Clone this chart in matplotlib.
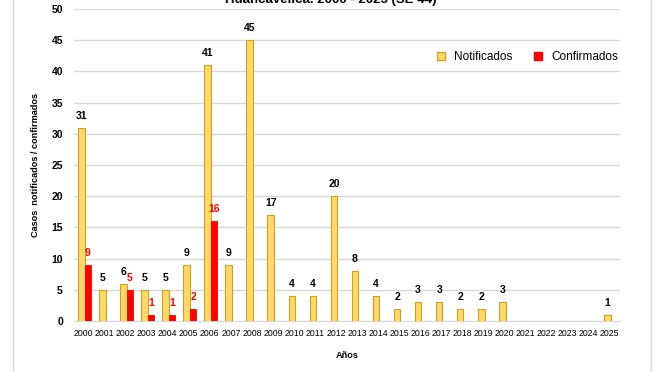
import matplotlib.pyplot as plt
import numpy as np
from matplotlib.lines import Line2D

plt.rcParams['font.family'] = ['Liberation Sans Narrow', 'Liberation Sans', 'DejaVu Sans']

years = [str(y) for y in range(2000, 2026)]
notificados = [31, 5, 6, 5, 5, 9, 41, 9, 45, 17, 4, 4, 20, 8, 4, 2, 3, 3, 2, 2, 3, 0, 0, 0, 0, 1]
confirmados = [9, 0, 5, 1, 1, 2, 16, 0, 0, 0, 0, 0, 0, 0, 0, 0, 0, 0, 0, 0, 0, 0, 0, 0, 0, 0]

amarillo = '#FFD966'
borde = '#C9A227'
rojo = '#FF0000'

fig = plt.figure(figsize=(6.55, 3.72), dpi=100)
ax = fig.add_axes([0.113, 0.137, 0.834, 0.839])

x = np.arange(len(years))
w = 0.31
ax.bar(x - w / 2 + 0.05, notificados, w, color=amarillo, edgecolor=borde, linewidth=0.8,
       label='Notificados', zorder=3)
ax.bar(x + w / 2 + 0.05, confirmados, w, color=rojo, edgecolor=rojo, linewidth=0.6,
       label='Confirmados', zorder=3)

for xi, v in zip(x, notificados):
    if v > 0:
        ax.annotate(str(v), (xi - w / 2 + 0.05, v), xytext=(0, 5), textcoords='offset points',
                    ha='center', va='bottom', fontsize=7.5, fontweight='bold', color='black')
for xi, v in zip(x, confirmados):
    if v > 0:
        ax.annotate(str(v), (xi + w / 2 + 0.05, v), xytext=(0, 5), textcoords='offset points',
                    ha='center', va='bottom', fontsize=7.5, fontweight='bold', color=rojo)

ax.set_xlim(-0.45, 25.5)
ax.set_ylim(0, 50)
ax.set_yticks(range(0, 51, 5))
ax.set_xticks(x)
ax.set_xticklabels(years, fontsize=6.3)
for t in ax.get_yticklabels():
    t.set_fontsize(7.5)
    t.set_fontweight('bold')
ax.tick_params(length=0, pad=6)
ax.tick_params(axis='y', pad=8)
ax.grid(axis='y', color='#D9D9D9', linewidth=1, zorder=0)
for s in ['top', 'right', 'left']:
    ax.spines[s].set_visible(False)
ax.spines['bottom'].set_color('#D9D9D9')

ax.set_ylabel('Casos  notificados / confirmados', fontsize=6.6, fontweight='bold', labelpad=8)
ax.set_xlabel('Años', fontsize=6.6, fontweight='bold', labelpad=9)

handles = [
    Line2D([], [], marker='s', linestyle='none', markersize=6, markerfacecolor=amarillo,
           markeredgecolor=borde, label='Notificados'),
    Line2D([], [], marker='s', linestyle='none', markersize=6, markerfacecolor=rojo,
           markeredgecolor=rojo, label='Confirmados'),
]
ax.legend(handles=handles, ncol=2, frameon=False, fontsize=8.5, loc='upper left',
          bbox_to_anchor=(0.63, 0.9), handletextpad=0.1, columnspacing=1.2)

fig.text(0.505, 0.992, 'Huancavelica. 2000 - 2025 (SE 44)', ha='center', va='baseline',
         fontsize=9.5, fontweight='bold')

# marco del gráfico
fig.add_artist(Line2D([13 / 655, 13 / 655], [0, 1], color='#D9D9D9', linewidth=1))
fig.add_artist(Line2D([651 / 655, 651 / 655], [0, 1], color='#D9D9D9', linewidth=1))

fig.savefig('out.png', dpi=100)
